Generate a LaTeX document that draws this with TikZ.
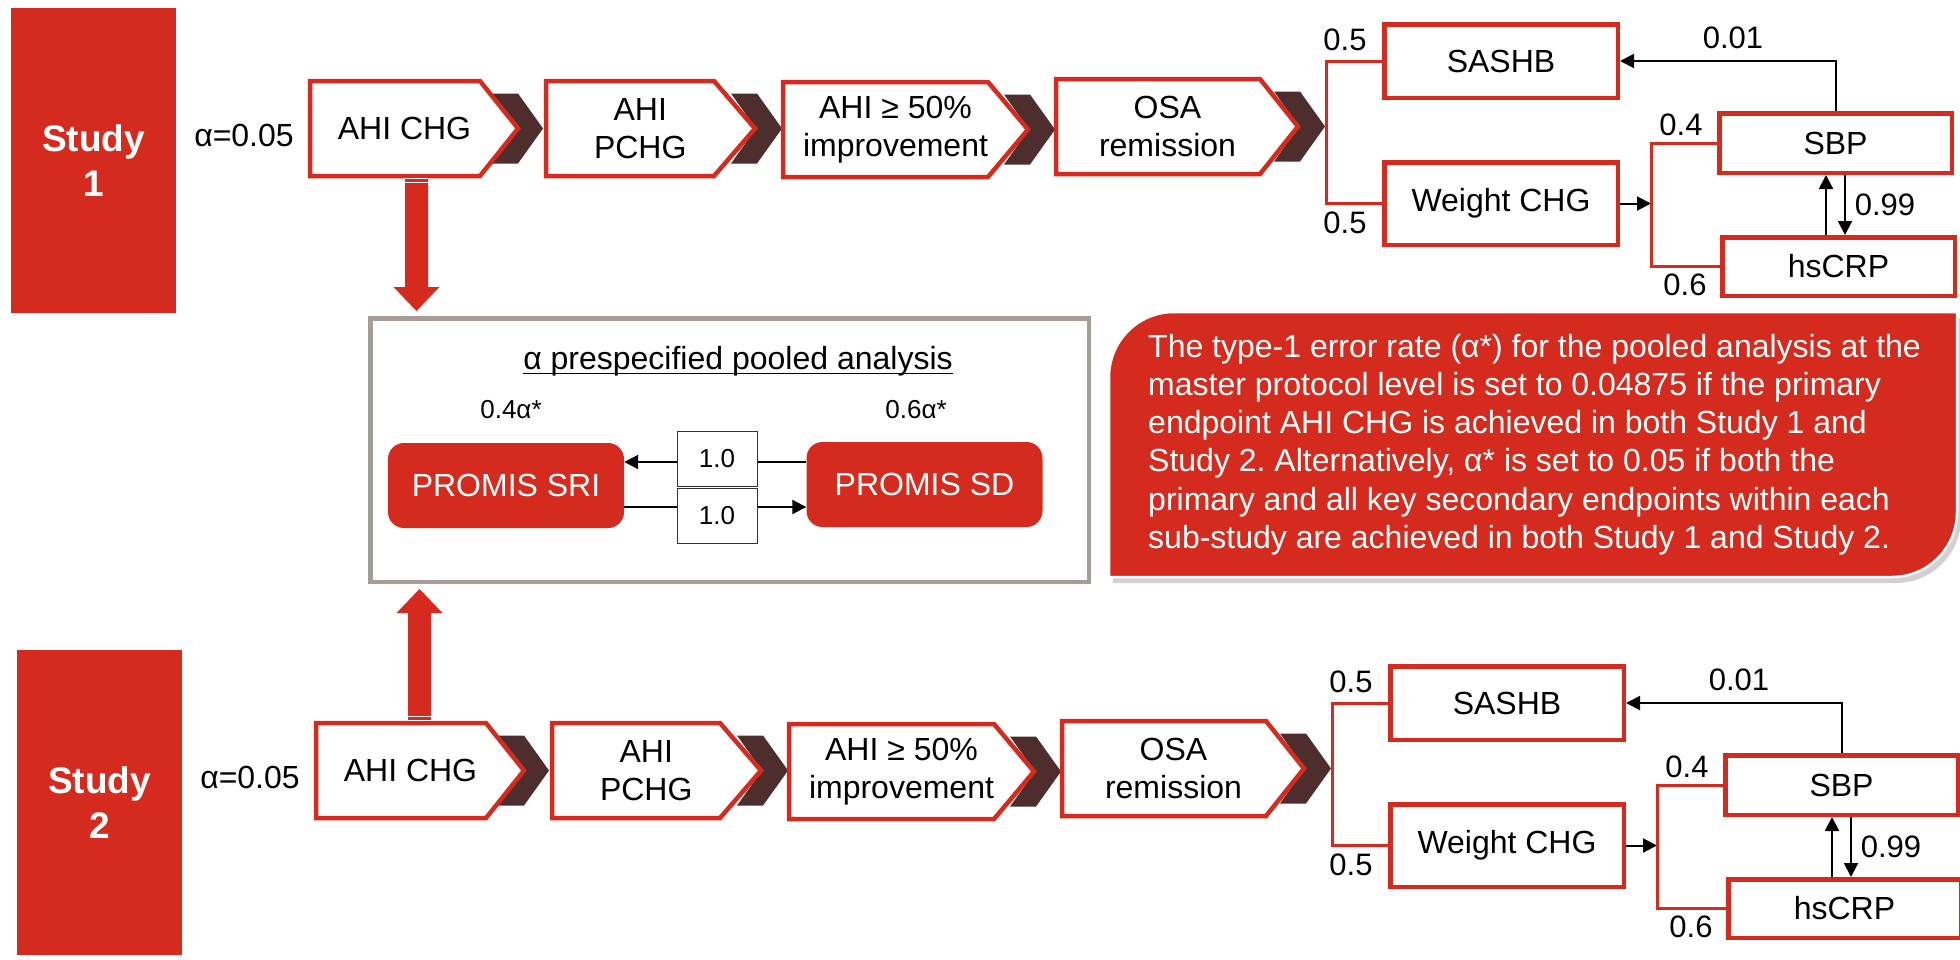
\documentclass[tikz,border=0pt]{standalone}
\usepackage{fontspec}
\setmainfont{Liberation Sans}
\usetikzlibrary{arrows.meta,calc}
\frenchspacing
\definecolor{cred}{RGB}{213,43,30}
\definecolor{cdark}{RGB}{78,45,45}
\definecolor{cgrey}{RGB}{165,157,150}
\tikzset{
 chevbox/.style={draw=cred, fill=white, line width=4.5pt, line join=miter},
 chevdark/.style={fill=cdark},
 chevtext/.style={font=\fontsize{32}{38}\selectfont, align=center, inner sep=0pt},
 endbox/.style={draw=cred, fill=white, line width=4.5pt, font=\fontsize{32}{38}\selectfont, inner sep=0pt},
 brk/.style={draw=cred, line width=3pt},
 arr/.style={draw=black, line width=2pt, -{Triangle[length=14pt,width=14pt]}},
 numlab/.style={font=\fontsize{31}{37}\selectfont, inner sep=0pt},
 smallab/.style={font=\fontsize{26}{31}\selectfont, inner sep=0pt},
 studybox/.style={fill=cred, text=white, font=\bfseries\fontsize{37}{45}\selectfont, align=center, inner sep=0pt},
 promis/.style={fill=cred, text=white, rounded corners=16pt, minimum width=236pt, minimum height=85pt, font=\fontsize{32}{38}\selectfont, inner sep=0pt},
 wbox/.style={draw=black!80, line width=0.8pt, fill=white, minimum width=80pt, minimum height=55pt, font=\fontsize{26}{31}\selectfont, inner sep=0pt},
}
% name, left, top, bottom, flat, tip, darktip, text
\newcommand\chevstep[8]{%
 \fill[chevdark] ({#7-51},{(#3+#4)/2-35}) -- ({#7-25},{(#3+#4)/2-35}) -- (#7,{(#3+#4)/2}) -- ({#7-25},{(#3+#4)/2+35}) -- ({#7-51},{(#3+#4)/2+35}) -- ({#7-26},{(#3+#4)/2}) -- cycle;
 \draw[chevbox] (#2,#3) -- (#5,#3) -- (#6,{(#3+#4)/2}) -- (#5,#4) -- (#2,#4) -- cycle;
 \node[chevtext] (#1) at ({(2*#2+#5+#6)/4},{(#3+#4)/2}) {#8};
}
\newcommand\studyrow[1]{%
 \node[studybox, minimum width=165pt, minimum height=305pt] (study) at (93.5,160.5) {Study\\#1};
 \node[numlab, font=\fontsize{32}{38}\selectfont] (alpha) at (244,135) {α=0.05};
 \chevstep{b1}{310}{81}{176}{480}{518}{543}{AHI CHG}
 \chevstep{b2}{546}{81}{176}{714}{755}{782}{AHI\\PCHG}
 \chevstep{b3}{783}{82}{177}{988}{1028}{1055}{AHI ≥ 50\%\\improvement}
 \chevstep{b4}{1056}{79}{174}{1260}{1298}{1325}{OSA\\remission}
 \coordinate (stembot) at (416.5,176);
 \coordinate (stemtop) at (413.5,81);
 \node[endbox, minimum width=233.5pt, minimum height=73.5pt] (sashb) at (1501,61) {SASHB};
 \node[endbox, minimum width=233.5pt, minimum height=82.5pt] (wchg) at (1501,203.5) {Weight CHG};
 \node[endbox, minimum width=232.5pt, minimum height=59.5pt] (sbp) at (1835.5,143) {SBP};
 \node[endbox, minimum width=232.5pt, minimum height=58.5pt] (hscrp) at (1838.5,266.5) {hsCRP};
 \draw[brk] (sashb.west) -- ++(-56,0) coordinate (j1) |- (wchg.west);
 \coordinate (j2) at (1651,203.5);
 \draw[arr] (wchg.east) -- (j2);
 \draw[brk] (sbp.west) -- (sbp.west -| j2) -- (hscrp.west -| j2) -- (hscrp.west);
 \draw[arr] (sbp.north) |- (sashb.east);
 \coordinate (ux) at ([xshift=-9.5pt]sbp.south);
 \coordinate (dx) at ([xshift=9.5pt]sbp.south);
 \draw[arr] (ux |- hscrp.north) -- (ux);
 \draw[arr] (dx) -- (dx |- hscrp.north);
 \node[numlab] (l05a) at (1345,40) {0.5};
 \node[numlab] (l05b) at (1345,223) {0.5};
 \node[numlab] (l001) at (1733,38) {0.01};
 \node[numlab] (l04) at (1681,125) {0.4};
 \node[numlab] (l06) at (1685,285) {0.6};
 \node[numlab] (l099) at (1885,205) {0.99};
}
\begin{document}
\begin{tikzpicture}[x=1pt,y=-1pt]
\fill[white] (0,0) rectangle (1960,959);
\useasboundingbox (0,0) rectangle (1960,959);
\begin{scope}[name prefix=s1-]
 \studyrow{1}
\end{scope}
\begin{scope}[shift={(6,642)}, name prefix=s2-]
 \studyrow{2}
\end{scope}
% pooled analysis box
\node[draw=cgrey, line width=4.5pt, minimum width=718.5pt, minimum height=263.5pt, inner sep=0pt] (pool) at (729.5,450) {};
\node[font=\fontsize{32}{38}\selectfont, inner sep=0pt, anchor=base] (ptitle) at (738,369) {α prespecified pooled analysis};
\draw[line width=1.5pt] ([yshift=-4.5pt]ptitle.base west) -- ([yshift=-4.5pt]ptitle.base east);
\node[smallab, anchor=base] (a04) at (511,418) {0.4α*};
\node[smallab, anchor=base] (a06) at (916,418) {0.6α*};
\node[promis] (sri) at (506,485.5) {PROMIS SRI};
\node[promis] (sd) at (924.5,484.5) {PROMIS SD};
\coordinate (ua) at ([yshift=22.5pt]sd.west);
\draw[arr] (ua) -- (ua -| sri.east);
\coordinate (la) at ([yshift=-21.5pt]sri.east);
\draw[arr] (la) -- (la -| sd.west);
\node[wbox] (w1) at (717,458.5) {1.0};
\node[wbox] (w2) at (717,515.5) {1.0};
% big red arrows
\fill[cred] let \p1=(s1-stembot), \p2=([yshift=5pt]pool.north) in
 (\x1-11.5pt,\y1) -- (\x1+11.5pt,\y1) -- (\x1+11.5pt,\y2+24pt) -- (\x1+23pt,\y2+24pt) -- (\x1,\y2) -- (\x1-23pt,\y2+24pt) -- (\x1-11.5pt,\y2+24pt) -- cycle;
\draw[white, line width=1.2pt] let \p1=(s1-stembot) in
 (\x1-11.5pt,\y1-2.5pt) -- (\x1+11.5pt,\y1-2.5pt) (\x1-11.5pt,\y1-6.5pt) -- (\x1+11.5pt,\y1-6.5pt);
\fill[cred] let \p1=(s2-stemtop), \p2=([yshift=-5pt]pool.south) in
 (\x1-11.5pt,\y1) -- (\x1+11.5pt,\y1) -- (\x1+11.5pt,\y2-24pt) -- (\x1+23pt,\y2-24pt) -- (\x1,\y2) -- (\x1-23pt,\y2-24pt) -- (\x1-11.5pt,\y2-24pt) -- cycle;
\draw[white, line width=1.2pt] let \p1=(s2-stemtop) in
 (\x1-11.5pt,\y1+2.5pt) -- (\x1+11.5pt,\y1+2.5pt) (\x1-11.5pt,\y1+6.5pt) -- (\x1+11.5pt,\y1+6.5pt);
% callout
\begin{scope}[shift={(4,6)}]
 \fill[black, opacity=0.18] (1109,577) -- (1109,377) arc[start angle=180,end angle=90,radius=65pt] -- (1957,312) -- (1957,512) arc[start angle=0,end angle=-90,radius=65pt] -- cycle;
\end{scope}
\path[fill=cred, draw=white, line width=2.5pt] (1109,577) -- (1109,377) arc[start angle=180,end angle=90,radius=65pt] -- (1957,312) -- (1957,512) arc[start angle=0,end angle=-90,radius=65pt] -- cycle;
\node[anchor=north west, align=left, inner sep=0pt, text=white, font=\fontsize{32}{38.3}\selectfont] (note) at (1148,330) {\strut The type-1 error rate (α*) for the pooled analysis at the\\
master protocol level is set to 0.04875 if the primary\\
endpoint AHI CHG is achieved in both Study 1 and\\
Study 2. Alternatively, α* is set to 0.05 if both the\\
primary and all key secondary endpoints within each\\
sub-study are achieved in both Study 1 and Study 2.};
\end{tikzpicture}
\end{document}
